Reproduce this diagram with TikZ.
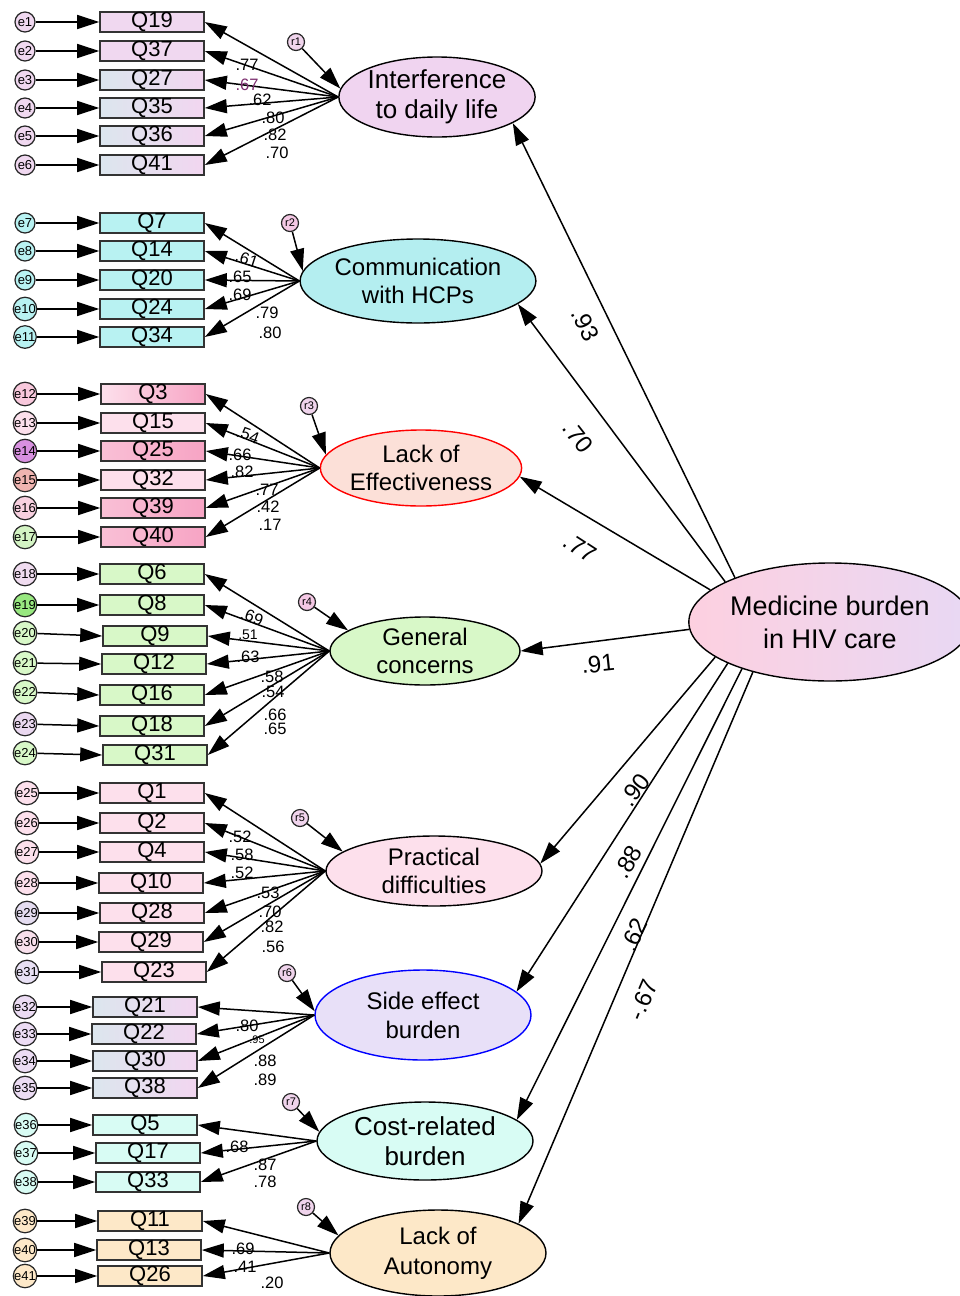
\documentclass[tikz,border=0pt]{standalone}
\usepackage{fontspec}
\setmainfont{Liberation Sans}
\usetikzlibrary{shapes.geometric,arrows.meta}
\definecolor{gA}{HTML}{F0D8F0}
\definecolor{gBl}{HTML}{DCE6EE}
\definecolor{gBr}{HTML}{F2D6F0}
\definecolor{cyanbox}{HTML}{B8F2F2}
\definecolor{greenbox}{HTML}{D8F8C8}
\definecolor{pinkbox}{HTML}{FDE0EC}
\definecolor{hotpink}{HTML}{F7A4C4}
\definecolor{mintbox}{HTML}{D8FCF4}
\definecolor{peachbox}{HTML}{FDE8C8}
\definecolor{lavres}{HTML}{F0D4EC}
\definecolor{purplab}{HTML}{7B2D6E}
\begin{document}
\begin{tikzpicture}[x=1pt,y=-1pt,
 box/.style={draw=black!80, line width=1.6pt, minimum width=104pt, minimum height=20pt, inner sep=0pt, font=\fontsize{22}{22}\selectfont},
 err/.style={circle, draw=black!85, line width=1.2pt, minimum size=20pt, inner sep=0pt, font=\fontsize{13}{13}\selectfont},
 res/.style={circle, draw=black!85, line width=1.2pt, minimum size=17pt, inner sep=0pt, font=\fontsize{11}{11}\selectfont, fill=lavres},
 lat/.style={ellipse, draw, line width=1.4pt, inner sep=0pt, align=center, font=\fontsize{26}{30}\selectfont},
 arr/.style={line width=1.5pt, -{Triangle[length=22pt,width=14pt]}},
 ld/.style={font=\fontsize{16.5}{16.5}\selectfont, inner sep=0pt},
 pl/.style={font=\fontsize{24}{24}\selectfont, inner sep=0pt},
 sA/.style={fill=gA}, sB/.style={left color=gBl, right color=gBr},
 sC/.style={fill=cyanbox}, sG/.style={fill=greenbox}, sP/.style={fill=pinkbox},
 sH/.style={left color=pinkbox, right color=hotpink}, sH2/.style={left color=hotpink!70!white, right color=hotpink},
 sM/.style={fill=mintbox}, sO/.style={fill=peachbox},
]
\useasboundingbox (0,0) rectangle (960,1296);

% ---------- latent variables ----------
\node[lat, fill={rgb,255:red,240;green,212;blue,240}, minimum width=190pt, minimum height=80pt] (l1) at (437,97) {Interference\\to daily life};
\node[lat, fill={rgb,255:red,180;green,238;blue,240}, minimum width=206pt, minimum height=84pt, font=\fontsize{24}{28}\selectfont] (l2) at (418,281) {Communication\\with HCPs};
\node[lat, draw=red, fill={rgb,255:red,252;green,224;blue,216}, minimum width=200pt, minimum height=76pt, font=\fontsize{24}{28}\selectfont] (l3) at (421,468) {Lack of\\Effectiveness};
\node[lat, fill=greenbox, minimum width=190pt, minimum height=68pt, font=\fontsize{24}{28}\selectfont] (l4) at (425,651) {General\\concerns};
\node[lat, fill=pinkbox, minimum width=216pt, minimum height=70pt, font=\fontsize{24}{28}\selectfont] (l5) at (434,871) {Practical\\difficulties};
\node[lat, draw=blue, fill={rgb,255:red,232;green,224;blue,248}, minimum width=216pt, minimum height=90pt, font=\fontsize{24}{29}\selectfont] (l6) at (423,1015) {Side effect\\burden};
\node[lat, fill=mintbox, minimum width=216pt, minimum height=78pt] (l7) at (425,1141) {Cost-related\\burden};
\node[lat, fill=peachbox, minimum width=216pt, minimum height=86pt, font=\fontsize{24}{30}\selectfont] (l8) at (438,1253) {Lack of\\Autonomy};
\node[lat, left color={rgb,255:red,253;green,208;blue,224}, right color={rgb,255:red,232;green,216;blue,244}, minimum width=266pt, minimum height=118pt, font=\fontsize{27}{33}\selectfont] (main) at (830,622) {Medicine burden\\in HIV care};

% ---------- observed variables, errors, loadings ----------
\foreach \n/\x/\y/\s/\e/\ex in {
 19/152/22/sA/1/25, 37/152/51/sA/2/25, 27/152/80/sB/3/25, 35/152/108/sB/4/25, 36/152/136/sB/5/25, 41/152/165/sB/6/25}
 {\node[box,\s] (q\n) at (\x,\y) {Q\n};
  \node[err,fill=gA] (e\e) at (\ex,\y) {e\e};
  \draw[arr] (e\e) -- (q\n);
  \draw[arr] (l1.west) -- (q\n.east);}
\foreach \n/\x/\y/\e in {7/152/223/7, 14/152/251/8, 20/152/280/9, 24/152/309/10, 34/152/337/11}
 {\node[box,sC] (q\n) at (\x,\y) {Q\n};
  \node[err,fill=cyanbox] (e\e) at (25,\y) {e\e};
  \draw[arr] (e\e) -- (q\n);
  \draw[arr] (l2.west) -- (q\n.east);}
\foreach \n/\y/\s/\e/\ec in {3/394/sH/12/F8C8DC, 15/423/sP/13/FCE0EC, 25/451/sH2/14/D890E0, 32/480/sP/15/F0B4B0, 39/508/sH2/16/F8D0E0, 40/537/sH2/17/D4F4C4}
 {\node[box,\s] (q\n) at (153,\y) {Q\n};
  \definecolor{ec}{HTML}{\ec}
  \node[err,fill=ec] (e\e) at (25,\y) {e\e};
  \draw[arr] (e\e) -- (q\n);
  \draw[arr] (l3.west) -- (q\n.east);}
\foreach \n/\x/\y/\e/\ey/\ec in {6/152/574/18/574/F0DCF0, 8/152/605/19/605/98E880, 9/155/636/20/633/D8F8C8, 12/154/664/21/663/D8F8C8, 16/152/695/22/692/D8F8C8, 18/152/726/23/724/EAD8F0, 31/155/755/24/753/D8F8C8}
 {\node[box,sG] (q\n) at (\x,\y) {Q\n};
  \definecolor{ec}{HTML}{\ec}
  \node[err,fill=ec] (e\e) at (25,\ey) {e\e};
  \draw[arr] (e\e) -- (q\n.west);
  \draw[arr] (l4.west) -- (q\n.east);}
\foreach \n/\x/\y/\e/\ec in {1/152/793/25/FCE0EC, 2/152/823/26/FCE0EC, 4/152/852/27/FCE0EC, 10/151/883/28/FCE0EC, 28/152/913/29/E4DCF0, 29/151/942/30/F8E0EC, 23/154/972/31/E8E0F4}
 {\node[box,sP] (q\n) at (\x,\y) {Q\n};
  \definecolor{ec}{HTML}{\ec}
  \node[err,fill=ec] (e\e) at (27,\y) {e\e};
  \draw[arr] (e\e) -- (q\n);
  \draw[arr] (l5.west) -- (q\n.east);}
\foreach \n/\x/\y/\e in {21/145/1007/32, 22/144/1034/33, 30/145/1061/34, 38/145/1088/35}
 {\node[box,sB] (q\n) at (\x,\y) {Q\n};
  \node[err,fill={rgb,255:red,236;green,220;blue,244}] (e\e) at (25,\y) {e\e};
  \draw[arr] (e\e) -- (q\n);
  \draw[arr] (l6.west) -- (q\n.east);}
\foreach \n/\x/\y/\e in {5/145/1125/36, 17/148/1153/37, 33/148/1182/38}
 {\node[box,sM] (q\n) at (\x,\y) {Q\n};
  \node[err,fill=mintbox] (e\e) at (26,\y) {e\e};
  \draw[arr] (e\e) -- (q\n);
  \draw[arr] (l7.west) -- (q\n.east);}
\foreach \n/\x/\y/\e in {11/150/1221/39, 13/149/1250/40, 26/150/1276/41}
 {\node[box,sO] (q\n) at (\x,\y) {Q\n};
  \node[err,fill=peachbox] (e\e) at (25,\y) {e\e};
  \draw[arr] (e\e) -- (q\n);
  \draw[arr] (l8.west) -- (q\n.east);}

% ---------- residuals ----------
\node[res] (r1) at (296,42) {r1};
\node[res, fill={rgb,255:red,244;green,200;blue,228}] (r2) at (290,223) {r2};
\node[res] (r3) at (309,406) {r3};
\node[res, fill={rgb,255:red,244;green,200;blue,228}] (r4) at (307,602) {r4};
\node[res] (r5) at (300,818) {r5};
\node[res] (r6) at (287,973) {r6};
\node[res] (r7) at (291,1102) {r7};
\node[res] (r8) at (306,1207) {r8};
\draw[arr] (r1) -- (l1.175);
\draw[arr] (r2) -- (l2.175);
\draw[arr] (r3) -- (l3.172);
\draw[arr] (r4) -- (l4.165);
\draw[arr] (r5) -- (l5.168);
\draw[arr] (r6) -- (l6.178);
\draw[arr] (r7) -- (l7.175);
\draw[arr] (r8) -- (l8.170);

% ---------- structural paths ----------
\draw[arr] (main.155) -- (l1.341);
\draw[arr] (main.159) -- (l2.347);
\draw[arr] (main.165) -- (l3.355);
\draw[arr] (main.183) -- (l4.0);
\draw[arr] (main.197) -- (l5.4);
\draw[arr] (main.202) -- (l6.14);
\draw[arr] (main.208.6) -- (l7.13);
\draw[arr] (main.213) -- (l8.20);
\node[pl, rotate=-63] at (585,325) {.93};
\node[pl, rotate=-52] at (578,437) {.70};
\node[pl, rotate=-33] at (580,548) {.77};
\node[pl, rotate=6] at (598,664) {.91};
\node[pl, rotate=52] at (635,790) {.90};
\node[pl, rotate=60] at (628,862) {.88};
\node[pl, rotate=64] at (634,935) {.62};
\node[pl, rotate=67] at (643,1000) {-.67};

% ---------- loadings ----------
\node[ld] at (247,65) {.77};
\node[ld, text=purplab] at (247,85) {.67};
\node[ld] at (260,100) {.62};
\node[ld] at (273,118) {.80};
\node[ld] at (275,135) {.82};
\node[ld] at (277,153) {.70};
\node[ld, rotate=-18] at (247,259) {.61};
\node[ld] at (240,277) {.65};
\node[ld] at (240,295) {.69};
\node[ld] at (267,313) {.79};
\node[ld] at (270,333) {.80};
\node[ld, rotate=-20] at (248,435) {.54};
\node[ld] at (240,455) {.66};
\node[ld] at (242,472) {.82};
\node[ld] at (267,490) {.77};
\node[ld] at (268,507) {.42};
\node[ld] at (270,525) {.17};
\node[ld, rotate=-20] at (252,617) {.69};
\node[ld, font=\fontsize{14}{14}\selectfont] at (248,635) {.51};
\node[ld] at (248,657) {.63};
\node[ld] at (272,677) {.58};
\node[ld] at (273,692) {.54};
\node[ld] at (275,715) {.66};
\node[ld] at (275,729) {.65};
\node[ld] at (240,837) {.52};
\node[ld] at (242,855) {.58};
\node[ld] at (242,873) {.52};
\node[ld] at (268,893) {.53};
\node[ld] at (270,912) {.70};
\node[ld] at (272,927) {.82};
\node[ld] at (273,947) {.56};
\node[ld] at (247,1026) {.80};
\node[ld, font=\fontsize{11}{11}\selectfont] at (257,1040) {.95};
\node[ld] at (265,1061) {.88};
\node[ld] at (265,1080) {.89};
\node[ld] at (237,1147) {.68};
\node[ld] at (265,1165) {.87};
\node[ld] at (265,1182) {.78};
\node[ld] at (243,1249) {.69};
\node[ld] at (245,1267) {.41};
\node[ld] at (272,1283) {.20};
\end{tikzpicture}
\end{document}
